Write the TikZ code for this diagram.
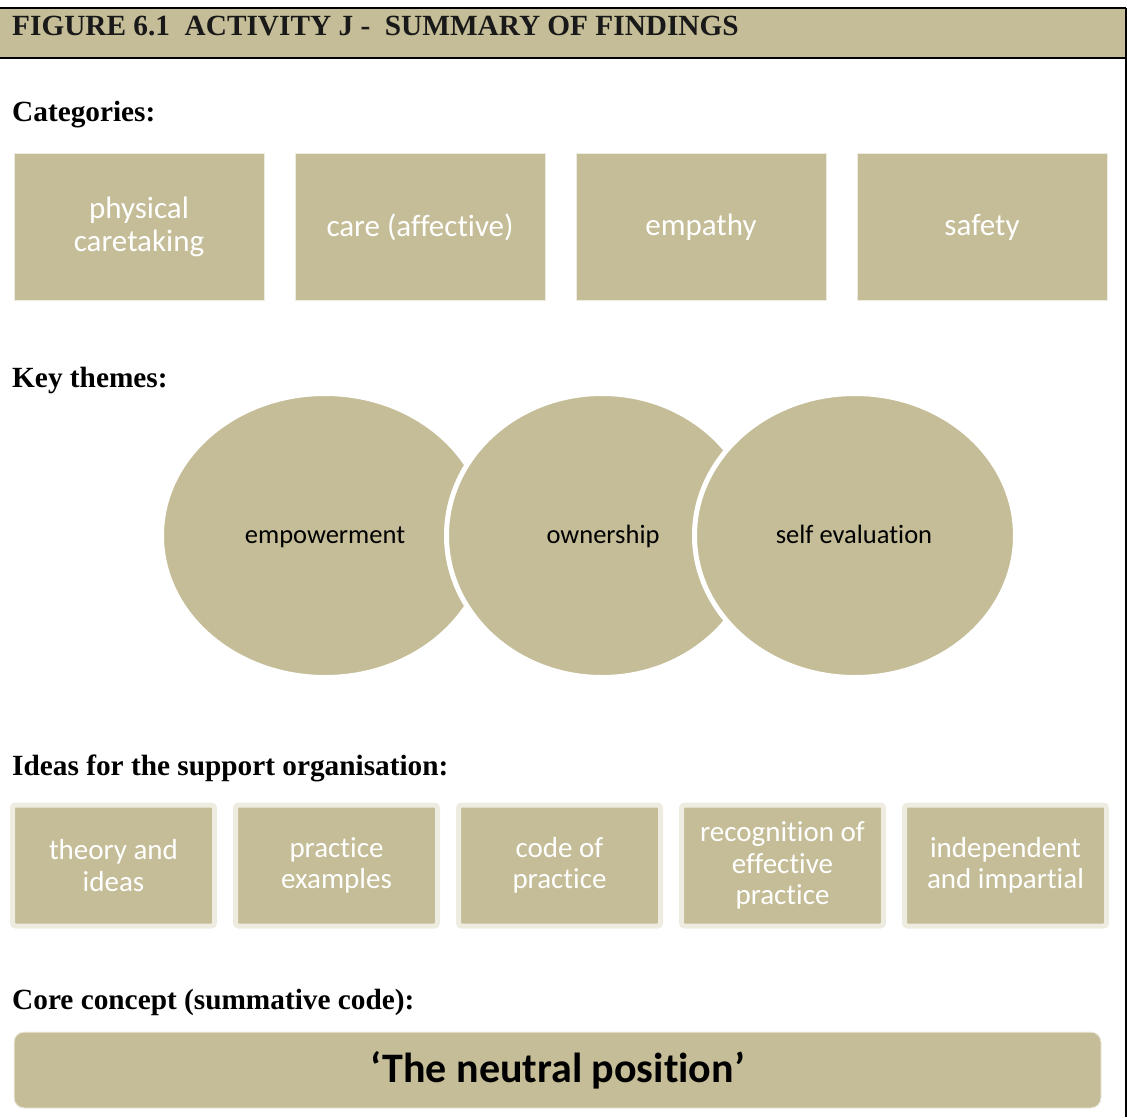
\documentclass[tikz,border=0pt]{standalone}
\usepackage{fontspec}
\setmainfont{Liberation Serif}
\newfontfamily\calfont[Ligatures={NoCommon,NoContextual}]{Carlito}
\usetikzlibrary{shapes.geometric}
\definecolor{tan}{HTML}{C4BD97}
\definecolor{lighttan}{HTML}{EEECE1}
\tikzset{
  heading/.style={anchor=base west, inner sep=0pt, font=\fontsize{29.3}{34}\selectfont\bfseries},
  catbox/.style={rectangle, fill=tan, draw=lighttan, line width=1pt, minimum width=250pt, minimum height=147pt,
    text=white, align=center, font=\calfont\fontsize{31}{33}\selectfont},
  themecirc/.style={ellipse, fill=tan, draw=white, line width=5pt, inner sep=0pt,
    minimum height=284pt},
  themetext/.style={anchor=base, inner sep=0pt, text=black, font=\calfont\fontsize{26.5}{30}\selectfont},
  ideabox/.style={rectangle, rounded corners=3pt, fill=tan, draw=lighttan, line width=5pt,
    minimum width=202pt, minimum height=121pt, text=white, align=center,
    font=\calfont\fontsize{29}{31.5}\selectfont},
  corebox/.style={rectangle, rounded corners=10pt, fill=tan, draw=lighttan, line width=1pt,
    minimum width=1087pt, minimum height=76pt, text=black,
    font=\calfont\bfseries\fontsize{42}{46}\selectfont}
}
\begin{document}
\begin{tikzpicture}[x=1pt,y=-1pt]
\useasboundingbox (0,0) rectangle (1127,1117);
% header band and frame
\fill[tan] (0,8) rectangle (1126,58);
\draw[line width=2.5pt] (0,8) -- (1126,8);
\draw[line width=2.5pt] (0,58) -- (1126,58);
\draw[line width=2pt] (1125.5,8) -- (1125.5,1117);
\node[heading, text=black!90] (title) at (12,35) {FIGURE 6.1\ \ ACTIVITY J -\ \ SUMMARY OF FINDINGS};

% Categories
\node[heading] (hcat) at (12,121) {Categories:};
\node[catbox] (c1) at (139,227) {physical\\caretaking};
\node[catbox] (c2) at (420,227) {care (affective)};
\node[catbox] (c3) at (701,227) {empathy};
\node[catbox] (c4) at (982,227) {safety};

% Key themes
\node[heading] (hkey) at (12,387) {Key themes:};
\node[themecirc, minimum width=327pt] (t1) at (325,535.5) {};
\node[themecirc, minimum width=311pt] (t2) at (602,535.5) {};
\node[themecirc, minimum width=321pt] (t3) at (855,535.5) {};
\node[themetext] (t1l) at (325,543) {empowerment};
\node[themetext] (t2l) at (603,543) {ownership};
\node[themetext] (t3l) at (854,543) {self evaluation};

% Ideas
\node[heading] (hidea) at (12,775) {Ideas for the support organisation:};
\node[ideabox] (i1) at (113.5,865.5) {theory and\\ideas};
\node[ideabox] (i2) at (336.5,865.5) {practice\\examples};
\node[ideabox] (i3) at (559.5,865.5) {code of\\practice};
\node[ideabox] (i4) at (782.5,865.5) {recognition of\\effective\\practice};
\node[ideabox] (i5) at (1005.5,865.5) {independent\\and impartial};

% Core concept
\node[heading] (hcore) at (12,1009) {Core concept (summative code):};
\node[corebox] (core) at (557.5,1070) {‘The neutral position’};
\end{tikzpicture}
\end{document}
